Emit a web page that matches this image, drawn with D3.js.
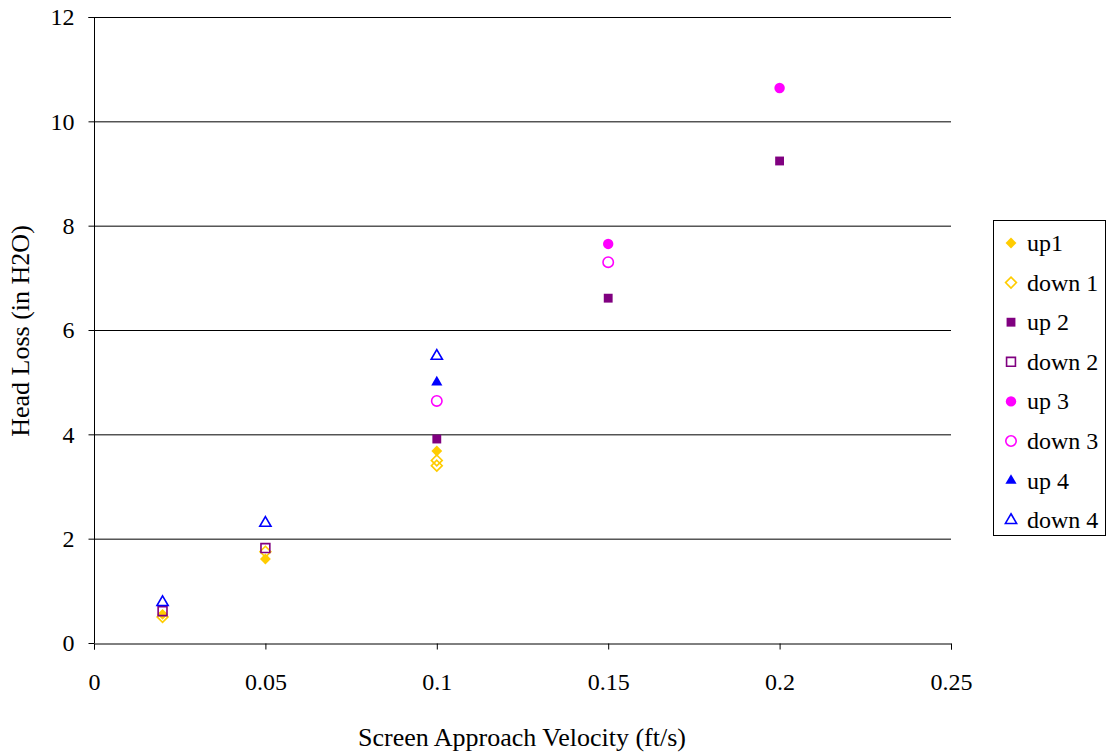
<!DOCTYPE html>
<html><head><meta charset="utf-8">
<script src="https://cdn.jsdelivr.net/npm/d3@7"></script>
<style>body{margin:0;background:#fff}svg{display:block}text{font-family:"Liberation Serif","Times New Roman",serif}</style>
</head><body><svg id="c" width="1109" height="753"></svg>
<script>
const seriesNames = ["up1","down 1","up 2","down 2","up 3","down 3","up 4","down 4"];
const up1X = [0.02,0.05,0.1];            const up1Y = [0.55,1.61,3.68];
const down1X = [0.02,0.05,0.1,0.1];      const down1Y = [0.5,1.75,3.5,3.4];
const up2X = [0.1,0.15,0.2];             const up2Y = [3.91,6.61,9.24];
const down2X = [0.02,0.05];              const down2Y = [0.61,1.82];
const up3X = [0.15,0.2];                 const up3Y = [7.65,10.64];
const down3X = [0.1,0.15];               const down3Y = [4.64,7.3];
const up4X = [0.1];                      const up4Y = [5.0];
const down4X = [0.02,0.05,0.1];          const down4Y = [0.78,2.3,5.5];
const xTicks = [0,0.05,0.1,0.15,0.2,0.25];
const xTickLabels = ["0","0.05","0.1","0.15","0.2","0.25"];
const yTicks = [0,2,4,6,8,10,12];

const colors = ["#FFCC00","#FFCC00","#800080","#800080","#FF00FF","#FF00FF","#0000FF","#0000FF"];
const shapes = ["diamond","diamond","square","square","circle","circle","triangle","triangle"];
const filled = [true,false,true,false,true,false,true,false];
const xs = [up1X,down1X,up2X,down2X,up3X,down3X,up4X,down4X];
const ys = [up1Y,down1Y,up2Y,down2Y,up3Y,down3Y,up4Y,down4Y];

const svg = d3.select("#c");
const L=94,R=951,T=17,B=643;
const x = d3.scaleLinear().domain([0,0.25]).range([L,R]);
const y = d3.scaleLinear().domain([0,12]).range([B,T]);

// gridlines
svg.append("g").selectAll("line").data(yTicks.filter(d=>d>0)).join("line")
  .attr("x1",L).attr("x2",R).attr("y1",d=>y(d)+0.5).attr("y2",d=>y(d)+0.5)
  .attr("stroke","#000").attr("stroke-width",1);

// axes
const ya = svg.append("g").attr("transform",`translate(${L+0.5},0)`)
  .call(d3.axisLeft(y).tickValues(yTicks).tickSize(6).tickPadding(14).tickFormat(d3.format("d")));
const xa = svg.append("g").attr("transform",`translate(0,${B+0.5})`)
  .call(d3.axisBottom(x).tickValues(xTicks).tickSize(6).tickPadding(28).tickFormat((d,i)=>xTickLabels[i]));
[ya,xa].forEach(a=>{
  a.selectAll("path").attr("stroke","#000");
  a.selectAll("line").attr("stroke","#000");
  a.selectAll("text").attr("font-size","24px").attr("fill","#000")
   .style("font-family","'Liberation Serif',serif");
});
ya.select(".domain").attr("d",`M-6,${T+0.5}H0V${B}`);
xa.selectAll("text").attr("dy","0.5em");

// titles
svg.append("text").attr("x",522).attr("y",746).attr("text-anchor","middle")
  .attr("font-size","26px").text("Screen Approach Velocity (ft/s)");
svg.append("text").attr("transform","translate(29,331) rotate(-90)").attr("text-anchor","middle")
  .attr("font-size","26px").text("Head Loss (in H2O)");

function markerPath(shape, s){
  const sym = {diamond:d3.symbolDiamond2, square:d3.symbolSquare2, circle:d3.symbolCircle, triangle:d3.symbolTriangle2}[shape];
  const size = {diamond:75, square:100, circle:85, triangle:90}[shape];
  return d3.symbol(sym, size*s)();
}
function drawMarker(g, i, cx, cy, s){
  g.append("path").attr("d", markerPath(shapes[i], s))
   .attr("transform",`translate(${cx},${cy})`)
   .attr("fill", filled[i]?colors[i]:"#fff").attr("fill-opacity", filled[i]?1:0)
   .attr("stroke", colors[i]).attr("stroke-width", filled[i]?0:1.6);
}

const pts = svg.append("g");
seriesNames.forEach((n,i)=>{
  xs[i].forEach((vx,j)=>drawMarker(pts,i,x(vx),y(ys[i][j]),1));
});

// legend
const lg = svg.append("g");
lg.append("rect").attr("x",993.5).attr("y",220.5).attr("width",112).attr("height",315)
  .attr("fill","#fff").attr("stroke","#000");
seriesNames.forEach((n,i)=>{
  const cy = 243 + i*39.6;
  drawMarker(lg,i,1011,cy,1.0);
  lg.append("text").attr("x",1027).attr("y",cy+8).attr("font-size","24px").text(n);
});
</script></body></html>
